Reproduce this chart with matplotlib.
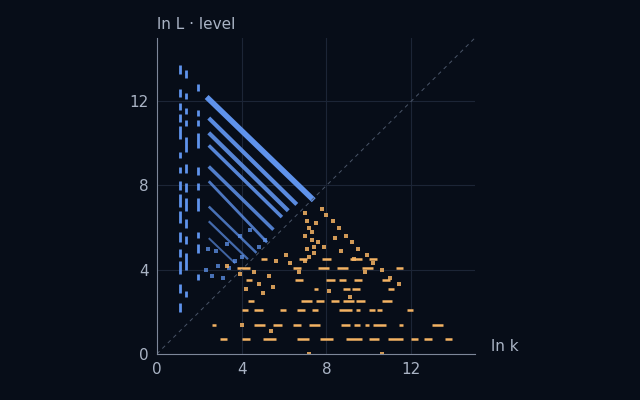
import matplotlib.pyplot as plt
from matplotlib.collections import LineCollection

BG = '#070d18'
BLUE = '#5f93ec'
ORANGE = '#f4b363'
TXT = '#a9b3c4'

# blue vertical dash columns: x, list of (y0, y1)
blue_cols = [
    (1.10, [(13.3, 13.7), (12.2, 12.6), (11.6, 11.9), (11.0, 11.4), (10.2, 10.8),
            (9.3, 9.6), (8.6, 8.9), (7.8, 8.2), (7.0, 7.6), (6.2, 6.8), (5.3, 5.8),
            (4.6, 5.0), (3.8, 4.4), (2.9, 3.3), (2.0, 2.4)]),
    (1.39, [(13.1, 13.5), (12.1, 12.4), (11.4, 11.7), (10.8, 11.1), (9.6, 10.3),
            (8.6, 9.0), (7.7, 8.1), (6.8, 7.4), (6.0, 6.4), (5.2, 5.6), (4.0, 4.8),
            (2.7, 3.0)]),
    (1.95, [(12.5, 12.8), (11.3, 11.6), (10.8, 11.1), (9.8, 10.5), (8.5, 8.9),
            (7.8, 8.1), (6.8, 7.4), (5.5, 5.8), (4.8, 5.2), (3.5, 3.8)]),
]

# blue diagonal bands: (x0, y0, x1, y1, width, alpha)
blue_bands = [
    (2.35, 12.2, 7.40, 7.30, 4.0, 1.0),
    (2.45, 11.2, 6.60, 7.10, 3.0, 0.95),
    (2.45, 10.5, 6.20, 6.80, 3.0, 0.9),
    (2.45, 9.9, 5.90, 6.50, 2.5, 0.9),
    (2.45, 8.9, 5.50, 5.90, 2.5, 0.85),
    (2.45, 8.2, 5.20, 5.30, 2.0, 0.8),
    (2.45, 7.0, 4.70, 4.80, 1.8, 0.75),
    (2.45, 6.3, 4.30, 4.50, 1.6, 0.7),
    (2.45, 5.5, 3.70, 4.30, 1.4, 0.65),
]
blue_pts_x = [2.3, 2.6, 2.9, 3.1, 3.4, 3.7, 4.0, 2.4, 2.8, 3.3, 3.9, 4.4, 4.8, 5.1]
blue_pts_y = [4.0, 3.7, 4.2, 3.6, 4.1, 4.4, 4.6, 5.0, 4.9, 5.2, 5.6, 5.9, 5.1, 5.4]

# orange horizontal rows: y, list of (x0, x1)
orange_rows = [
    (0.7, [(3.0, 3.3), (4.0, 4.4), (5.0, 5.6), (6.6, 7.2), (7.7, 8.3), (8.9, 9.7),
           (10.0, 10.5), (10.9, 11.6), (12.0, 12.3), (12.6, 13.0), (13.6, 13.9)]),
    (1.4, [(2.6, 2.8), (4.6, 5.1), (5.5, 5.9), (6.4, 6.8), (7.2, 7.7), (8.7, 9.1),
           (9.3, 9.6), (9.8, 10.0), (10.2, 10.8), (11.4, 11.6), (13.0, 13.5)]),
    (2.1, [(4.0, 4.3), (4.6, 5.0), (5.8, 6.1), (6.6, 7.0), (7.3, 7.6), (8.6, 9.2),
           (9.4, 9.6), (10.0, 10.3), (10.4, 10.6), (11.8, 12.1)]),
    (2.5, [(4.3, 4.6), (6.8, 7.3), (7.5, 7.9), (8.2, 8.6), (8.8, 9.3), (9.4, 9.8),
           (10.6, 11.1)]),
    (3.1, [(7.4, 7.6), (8.8, 9.1), (9.2, 9.6), (10.9, 11.2)]),
    (3.5, [(4.2, 4.5), (6.5, 6.9), (8.0, 8.4), (8.6, 8.9), (9.3, 9.7), (10.6, 11.0)]),
    (4.1, [(3.8, 4.4), (6.4, 6.8), (7.6, 8.1), (8.5, 9.0), (9.7, 10.2), (11.3, 11.6)]),
    (4.5, [(4.9, 5.2), (6.7, 7.1), (7.8, 8.2), (9.1, 9.7), (10.0, 10.4)]),
]
orange_pts_x = [7.0, 7.1, 7.2, 7.0, 7.3, 7.1, 7.4, 7.2, 7.0, 7.5, 7.3, 7.6, 7.4,
                7.8, 8.0, 8.3, 8.6, 8.9, 9.2, 9.5, 9.9, 10.2, 10.6, 11.0, 11.4,
                7.9, 8.4, 8.7, 9.3, 9.8, 6.1, 6.3, 5.6, 5.3, 4.6, 4.8, 3.3, 3.9,
                4.2, 5.0, 5.5, 6.7, 8.1, 9.1, 4.0, 5.4, 7.2, 10.6]
orange_pts_y = [6.7, 6.3, 6.0, 5.6, 5.4, 5.0, 4.8, 4.6, 4.4, 6.2, 5.8, 5.3, 5.1,
                6.9, 6.6, 6.3, 6.0, 5.6, 5.3, 5.0, 4.7, 4.3, 4.0, 3.6, 3.3,
                5.1, 5.5, 4.9, 4.5, 3.9, 4.7, 4.3, 4.4, 3.7, 3.9, 3.3, 4.2, 3.8,
                3.1, 2.9, 3.2, 3.9, 3.0, 2.7, 1.4, 1.1, 0.0, 0.0]

fig = plt.figure(figsize=(6.4, 4.0), dpi=100, facecolor=BG)
ax = fig.add_axes([0.245, 0.115, 0.497, 0.79], facecolor=BG)

segs = [[(x, y0), (x, y1)] for x, dashes in blue_cols for y0, y1 in dashes]
ax.add_collection(LineCollection(segs, colors=BLUE, linewidths=2.0))
for x0, y0, x1, y1, w, a in blue_bands:
    ax.plot([x0, x1], [y0, y1], color=BLUE, lw=w, alpha=a, solid_capstyle='butt')
ax.scatter(blue_pts_x, blue_pts_y, s=7, marker='s', color=BLUE, alpha=0.75, lw=0)

segs = [[(x0, y), (x1, y)] for y, dashes in orange_rows for x0, x1 in dashes]
ax.add_collection(LineCollection(segs, colors=ORANGE, linewidths=1.8))
ax.scatter(orange_pts_x, orange_pts_y, s=7, marker='s', color=ORANGE, alpha=0.85, lw=0)

ax.plot([0, 15], [0, 15], ls=(0, (4, 4)), color='#4a5568', lw=0.7)

ax.set_xlim(0, 15)
ax.set_ylim(0, 15)
ax.set_xticks([0, 4, 8, 12])
ax.set_yticks([0, 4, 8, 12])
ax.grid(color='#1c2536', lw=0.8)
ax.set_axisbelow(True)
ax.tick_params(length=0, colors=TXT, labelsize=11, pad=6)
for s in ['top', 'right']:
    ax.spines[s].set_visible(False)
for s in ['left', 'bottom']:
    ax.spines[s].set_color('#7d8799')
ax.text(0, 1.02, 'ln L · level', transform=ax.transAxes, color=TXT, fontsize=11,
        ha='left', va='bottom')
ax.text(1.05, 0.0, 'ln k', transform=ax.transAxes, color=TXT, fontsize=11,
        ha='left', va='bottom')

fig.savefig('out.png', facecolor=BG)
